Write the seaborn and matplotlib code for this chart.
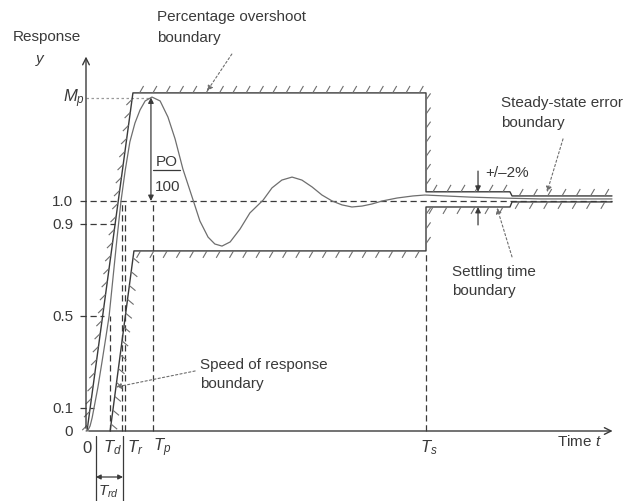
import numpy as np
import matplotlib
matplotlib.use("Agg")
import matplotlib.pyplot as plt
from matplotlib.collections import LineCollection
import seaborn as sns

# Step response (time in arbitrary units, response y)
resp_t = [0.0, 0.06, 0.12, 0.18, 0.235, 0.35, 0.47, 0.59, 0.68, 0.79, 0.91, 1.03,
          1.15, 1.29, 1.44, 1.59, 1.74, 1.94, 2.18, 2.41, 2.62, 2.85, 3.15, 3.35,
          3.59, 3.79, 4.0, 4.24, 4.53, 4.82, 5.21, 5.47, 5.76, 6.06, 6.35, 6.65,
          6.94, 7.24, 7.53, 7.82, 8.12, 8.41, 8.71, 9.15, 9.62, 9.97, 10.56, 11.29,
          12.18, 13.35, 15.47]
resp_y = [0.0, 0.004, 0.022, 0.057, 0.1, 0.19, 0.3, 0.413, 0.5, 0.66, 0.835, 1.0,
          1.13, 1.257, 1.339, 1.396, 1.435, 1.452, 1.435, 1.365, 1.27, 1.139, 1.004, 0.913,
          0.843, 0.813, 0.804, 0.822, 0.878, 0.948, 1.004, 1.057, 1.091, 1.104, 1.091, 1.061,
          1.026, 1.0, 0.983, 0.974, 0.978, 0.987, 1.0, 1.013, 1.022, 1.026, 1.022, 1.017,
          1.013, 1.009, 1.009]

# Upper boundary (speed of response / overshoot / settling band)
upper_t = [0.03, 1.38, 10.0, 10.0, 12.47, 12.53, 15.47]
upper_y = [0.0, 1.47, 1.47, 1.04, 1.04, 1.022, 1.022]
upper_hatch = [225, 60, 55, 60, None, 60]
# Lower boundary
lower_t = [0.71, 1.41, 10.0, 10.0, 12.47, 12.53, 15.47]
lower_y = [0.0, 0.783, 0.783, 0.974, 0.974, 0.996, 0.996]
lower_hatch = [-40, 240, 55, 240, None, 240]

Mp = 1.45
level_vals = [0.1, 0.5, 0.9, 1.0]
level_labels = ["0.1", "0.5", "0.9", "1.0"]
level_ends = [0.235, 0.53, 0.85, 15.47]

# vertical time markers: (x, top of dashed line)
time_lines = [(0.71, 0.5), (1.06, 1.0), (1.15, 1.0), (1.97, 1.0), (10.0, 0.783)]
time_labels = ["0", "$T_d$", "$T_r$", "$T_p$", "$T_s$"]
time_label_x = [0.03, 0.79, 1.44, 2.24, 10.09]
t_end = 15.47

INK = "#3a3a3a"
GREY = "#6e6e6e"

sns.set_theme(style="white")
plt.rcParams["font.family"] = ["Liberation Sans", "DejaVu Sans"]
plt.rcParams["mathtext.fontset"] = "custom"
plt.rcParams["mathtext.rm"] = "Liberation Sans"
plt.rcParams["mathtext.it"] = "Liberation Sans:italic"

fig = plt.figure(figsize=(6.29, 5.02), dpi=100)
ax = fig.add_axes([0, 0, 1, 1])
ax.set_xlim(-86 / 34, 543 / 34)
ax.set_ylim(-70 / 230, 432 / 230)
ax.axis("off")


def hatch(ts, ys, angles, step=13, length=8):
    # short oblique strokes on the forbidden side of a boundary
    pts = ax.transData.transform(np.column_stack([ts, ys]))
    segs = []
    for i, ang in enumerate(angles):
        if ang is None:
            continue
        p0, p1 = pts[i], pts[i + 1]
        seg = np.hypot(*(p1 - p0))
        n = int(seg // step)
        d = np.array([np.cos(np.radians(ang)), np.sin(np.radians(ang))]) * length
        for k in range(n):
            p = p0 + (p1 - p0) * (k + 0.5) / n
            a, b = ax.transData.inverted().transform([p, p + d])
            segs.append([a, b])
    ax.add_collection(LineCollection(segs, colors=GREY, linewidths=0.8))


# axes with arrows
ax.annotate("", xy=(0, 1.64), xytext=(0, 0),
            arrowprops=dict(arrowstyle="->", color=INK, lw=1.0))
ax.annotate("", xy=(t_end + 0.1, 0), xytext=(0, 0),
            arrowprops=dict(arrowstyle="->", color=INK, lw=1.0))

# dashed guide levels
for v, lab, end in zip(level_vals, level_labels, level_ends):
    ax.plot([-0.18, end], [v, v], ls=(0, (5, 3)), color=INK, lw=0.9)
    ax.text(-0.38, v, lab, ha="right", va="center", fontsize=11, color=INK)
ax.text(-0.38, 0, "0", ha="right", va="center", fontsize=11, color=INK)
ax.plot([0, 1.88], [Mp, Mp], ls=(0, (2, 2)), color="#9a9a9a", lw=0.9)
ax.text(-0.03, Mp, "$M_p$", ha="right", va="center", fontsize=12, color=INK)

for x, top in time_lines:
    ax.plot([x, x], [0, top], ls=(0, (5, 3)), color=INK, lw=0.9)
for x, lab in zip(time_label_x, time_labels):
    ax.text(x, -0.07, lab, ha="center", va="center", fontsize=12, color=INK)
ax.text(13.85, -0.043, "Time $t$", ha="left", va="center", fontsize=11, color=INK)

# boundaries
line_kw = dict(sort=False, estimator=None, errorbar=None, ax=ax)
sns.lineplot(x=upper_t, y=upper_y, color=INK, lw=1.0, **line_kw)
sns.lineplot(x=lower_t, y=lower_y, color=INK, lw=1.0, **line_kw)
hatch(upper_t, upper_y, upper_hatch)
hatch(lower_t, lower_y, lower_hatch)

# response curve
sns.lineplot(x=resp_t, y=resp_y, color=GREY, lw=0.9, **line_kw)

# PO/100 arrow
ax.annotate("", xy=(1.91, 1.0), xytext=(1.91, Mp),
            arrowprops=dict(arrowstyle="<|-|>", color=INK, lw=0.9,
                            mutation_scale=8, shrinkA=0, shrinkB=0))
ax.text(2.05, 1.174, "PO", ha="left", va="center", fontsize=11, color=INK)
ax.plot([1.97, 2.76], [1.135, 1.135], color=INK, lw=0.9)
ax.text(2.03, 1.065, "100", ha="left", va="center", fontsize=11, color=INK)

# +/-2% band arrows
ax.annotate("", xy=(11.53, 1.04), xytext=(11.53, 1.13),
            arrowprops=dict(arrowstyle="-|>", color=INK, lw=0.9,
                            mutation_scale=8, shrinkA=0, shrinkB=0))
ax.annotate("", xy=(11.53, 0.974), xytext=(11.53, 0.896),
            arrowprops=dict(arrowstyle="-|>", color=INK, lw=0.9,
                            mutation_scale=8, shrinkA=0, shrinkB=0))
ax.text(11.74, 1.126, "+/\u20132%", ha="left", va="center", fontsize=11, color=INK)

# text labels and leaders
lead = dict(arrowstyle="-|>", color=GREY, lw=0.8, ls=(0, (2, 2)),
            mutation_scale=8, shrinkA=0, shrinkB=0)
ax.text(-2.15, 1.717, "Response", ha="left", va="center", fontsize=11, color=INK)
ax.text(-1.32, 1.617, "$y$", ha="center", va="center", fontsize=11, color=INK)

ax.text(2.09, 1.804, "Percentage overshoot", ha="left", va="center", fontsize=11, color=INK)
ax.text(2.09, 1.713, "boundary", ha="left", va="center", fontsize=11, color=INK)
ax.annotate("", xy=(3.56, 1.478), xytext=(4.29, 1.639), arrowprops=lead)

ax.text(12.21, 1.43, "Steady-state error", ha="left", va="center", fontsize=11, color=INK)
ax.text(12.21, 1.343, "boundary", ha="left", va="center", fontsize=11, color=INK)
ax.annotate("", xy=(13.56, 1.039), xytext=(14.03, 1.27), arrowprops=lead)

ax.text(10.76, 0.696, "Settling time", ha="left", va="center", fontsize=11, color=INK)
ax.text(10.76, 0.613, "boundary", ha="left", va="center", fontsize=11, color=INK)
ax.annotate("", xy=(12.09, 0.97), xytext=(12.53, 0.757), arrowprops=lead)

ax.text(3.35, 0.291, "Speed of response", ha="left", va="center", fontsize=11, color=INK)
ax.text(3.35, 0.209, "boundary", ha="left", va="center", fontsize=11, color=INK)
ax.annotate("", xy=(0.88, 0.191), xytext=(3.21, 0.261), arrowprops=lead)

# rise-time bracket under the axis
for x in (0.29, 1.09):
    ax.plot([x, x], [-0.022, -0.31], color=INK, lw=0.9)
ax.annotate("", xy=(1.09, -0.2), xytext=(0.29, -0.2),
            arrowprops=dict(arrowstyle="<|-|>", color=INK, lw=0.9,
                            mutation_scale=7, shrinkA=0, shrinkB=0))
ax.text(0.65, -0.262, "$T_{rd}$", ha="center", va="center", fontsize=11, color=INK)

fig.savefig("out.png", dpi=100)
